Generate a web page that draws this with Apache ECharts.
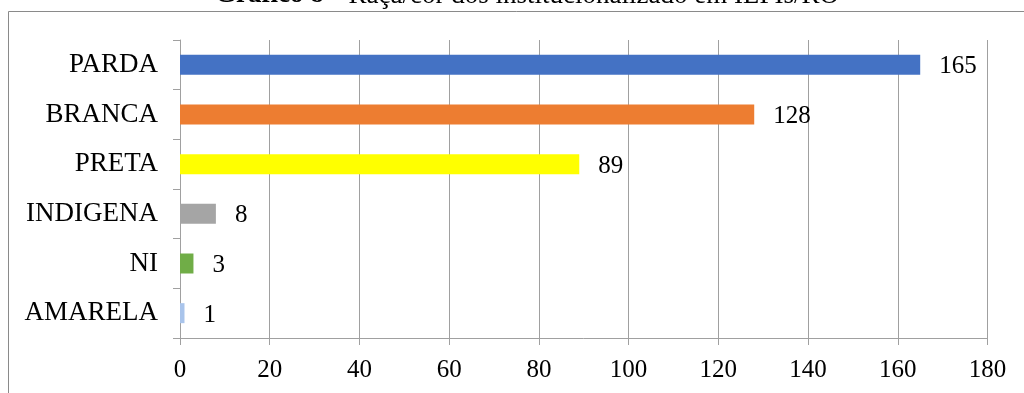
<!DOCTYPE html>
<html>
<head>
<meta charset="utf-8">
<script src="https://cdn.jsdelivr.net/npm/echarts@6/dist/echarts.min.js"></script>
<style>
  html, body { margin: 0; padding: 0; background: #fff; }
  #chart { width: 1024px; height: 393px; }
</style>
</head>
<body>
<div id="chart"></div>
<script>
// Categories, top to bottom
const categories = ['PARDA', 'BRANCA', 'PRETA', 'INDIGENA', 'NI', 'AMARELA'];
// Number of institutionalized residents per race/colour
const counts = [165, 128, 89, 8, 3, 1];
// Value axis ticks
const axisMin = 0;
const axisMax = 180;
const axisStep = 20;

// Bar fill for each category
const barColors = ['#4472C4', '#ED7D31', '#FFFF00', '#A5A5A5', '#70AD47', '#A9C4EB'];

const serif = '"Liberation Serif", "Times New Roman", serif';
const gray = '#a0a0a0';

const chart = echarts.init(document.getElementById('chart'), null, { renderer: 'canvas' });

chart.setOption({
  animation: false,
  backgroundColor: '#ffffff',
  textStyle: { fontFamily: serif },
  title: {
    left: 522,
    textAlign: 'center',
    top: -23,
    text: '{b|Gráfico 8} {n|– Raça/cor dos institucionalizado em ILPIs/RO}',
    textStyle: {
      fontWeight: 'normal',
      rich: {
        b: { fontFamily: serif, fontSize: 27, fontWeight: 'bold', color: '#000' },
        n: { fontFamily: serif, fontSize: 27, fontWeight: 'normal', color: '#000' }
      }
    }
  },
  graphic: [{
    type: 'rect',
    silent: true,
    shape: { x: 8.5, y: 11.5, width: 1100, height: 500 },
    style: { fill: 'none', stroke: '#8a8a8a', lineWidth: 1 }
  }],
  grid: { left: 180, right: 36.5, top: 40, bottom: 55, containLabel: false },
  xAxis: {
    type: 'value',
    min: axisMin,
    max: axisMax,
    interval: axisStep,
    axisLine: { show: true, lineStyle: { color: gray, width: 1 } },
    axisTick: { show: true, length: 7, lineStyle: { color: gray } },
    splitLine: { show: true, lineStyle: { color: gray, width: 1 } },
    axisLabel: { color: '#000', fontFamily: serif, fontSize: 25, margin: 20 }
  },
  yAxis: {
    type: 'category',
    inverse: true,
    data: categories,
    axisLine: { show: true, lineStyle: { color: gray, width: 1 } },
    axisTick: { show: true, length: 7, lineStyle: { color: gray } },
    splitLine: { show: false },
    axisLabel: { color: '#000', fontFamily: serif, fontSize: 27, margin: 22 }
  },
  series: [{
    type: 'bar',
    barWidth: 20,
    data: counts.map((v, i) => ({ value: v, itemStyle: { color: barColors[i] } })),
    label: {
      show: true,
      position: 'right',
      distance: 19,
      offset: [0, 2],
      color: '#000',
      fontFamily: serif,
      fontSize: 25
    }
  }]
});
</script>
</body>
</html>
